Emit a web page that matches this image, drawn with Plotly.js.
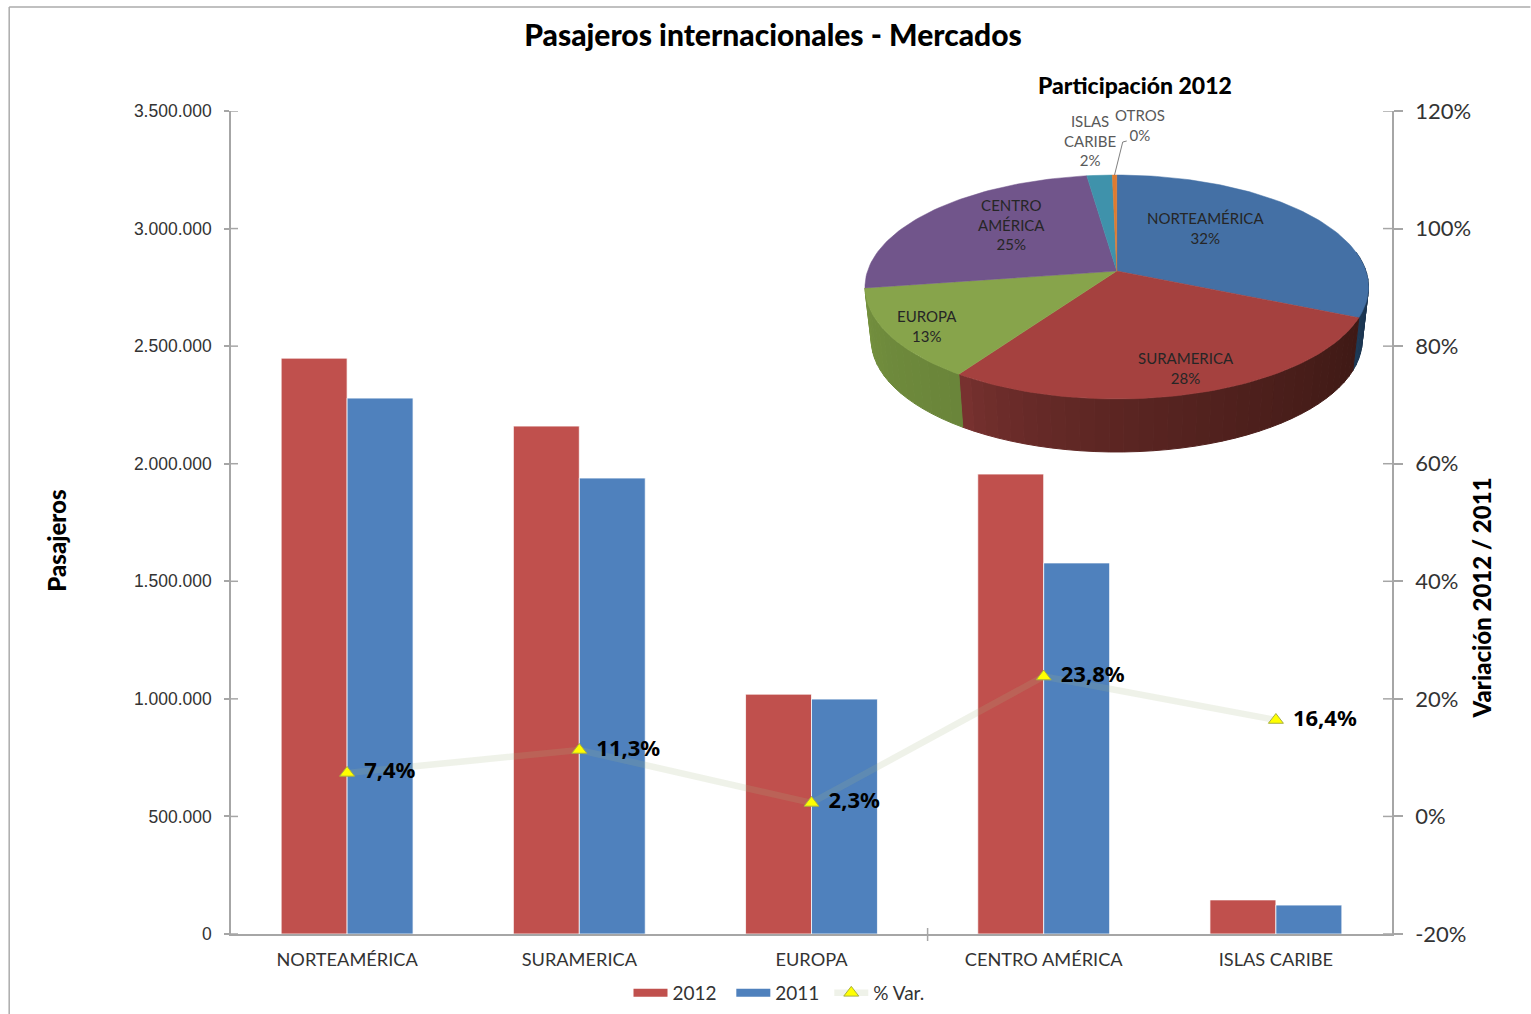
<!DOCTYPE html>
<html>
<head>
<meta charset="utf-8">
<script src="https://cdn.plot.ly/plotly-3.0.1.min.js"></script>
<style>html,body{margin:0;padding:0;background:#fff;overflow:hidden}#chart{width:1531px;height:1014px}</style>
</head>
<body>
<div id="chart"></div>
<script>
// ---- data ----
const categories = ['NORTEAMÉRICA', 'SURAMERICA', 'EUROPA', 'CENTRO AMÉRICA', 'ISLAS CARIBE'];
const pax2012 = [2449000, 2160000, 1020000, 1956000, 145000];
const pax2011 = [2279000, 1939000, 999000, 1578000, 123000];
const variation = [7.4, 11.3, 2.3, 23.8, 16.4];
const leftTicks = [0, 500000, 1000000, 1500000, 2000000, 2500000, 3000000, 3500000];
const rightTicks = [-20, 0, 20, 40, 60, 80, 100, 120];
const rightTickText = ['-20%', '0%', '20%', '40%', '60%', '80%', '100%', '120%'];

const pieNames = ['NORTEAMÉRICA', 'SURAMERICA', 'EUROPA', 'CENTRO AMÉRICA', 'ISLAS CARIBE', 'OTROS'];
const pieValues = [2449000, 2160000, 1020000, 1956000, 145000, 25000];
const pieLabels = ['NORTEAMÉRICA<br>32%', 'SURAMERICA<br>28%', 'EUROPA<br>13%', 'CENTRO<br>AMÉRICA<br>25%', 'ISLAS<br>CARIBE<br>2%', 'OTROS<br>0%'];

// ---- styles ----
const pieTopColors = ['#4470A5', '#A5413F', '#87A44B', '#71558B', '#3F92AB', '#E07B2F'];
const pieSideLeft = ['#1E3A57', '#7C3331', '#76933F', '#5A4470', '#30707F', '#A85A20'];
const pieSideRight = ['#1A3049', '#3E1915', '#6A853A', '#5A4470', '#30707F', '#A85A20'];
const labelAnchorX = [89, 69, -190, -105, -27, 23];
const labelAnchorY = [43, -97, -55, 47, 130.5, 146];
const FONT = 'Lato, "Open Sans", sans-serif';

// ---- frame ----
const L = 230.5, R = 1392.5, T = 111, BOT = 934, PW = R - L, PH = BOT - T;
const APEX_X = 1117, APEX_Y = 271;

// ---- perspective projection of the pie disc (plot units = screen pixels from the apex) ----
const A = 249.4, B = 109.7, C = 0.1429, DEPTH = 53, SQUEEZE = 0.975;
function rim(deg, lower) {
  const t = deg * Math.PI / 180, u = Math.sin(t), v = Math.cos(t), d = 1 + C * v;
  return lower ? [A * u / d * SQUEEZE, B * v / d - DEPTH] : [A * u / d, B * v / d];
}
const total = pieValues.reduce((s, v) => s + v, 0);
let cum = 0;
const sliceAngles = pieValues.map(v => { const a0 = cum / total * 360; cum += v; return [a0, cum / total * 360]; });

function hex(c) { return [1, 3, 5].map(i => parseInt(c.substr(i, 2), 16)); }
function mix(c0, c1, f) {
  const a = hex(c0), b = hex(c1);
  return 'rgb(' + a.map((x, i) => Math.round(x + (b[i] - x) * f)).join(',') + ')';
}

const sideTraces = [], topTraces = [];
const pieAxes = {xaxis: 'x3', yaxis: 'y4', mode: 'lines', showlegend: false, hoverinfo: 'skip', fill: 'toself'};
sliceAngles.forEach(([a0, a1], i) => {
  // visible wall: only the front of the disc
  const s0 = Math.max(a0, 80), s1 = Math.min(a1, 263);
  if (s1 > s0 && i < 3) {
    const n = Math.max(1, Math.ceil((s1 - s0) / 3));
    for (let k = 0; k < n; k++) {
      const g0 = s0 + (s1 - s0) * k / n, g1 = s0 + (s1 - s0) * (k + 1) / n;
      const pts = [rim(g0), rim(g1), rim(g1, true), rim(g0, true)];
      // shade runs from left (high angle) to right (low angle)
      const f = Math.pow(1 - (k + 0.5) / n, 0.6);
      const col = mix(pieSideLeft[i], pieSideRight[i], f);
      sideTraces.push(Object.assign({}, pieAxes, {
        x: pts.map(p => p[0]).concat(pts[0][0]), y: pts.map(p => p[1]).concat(pts[0][1]),
        fillcolor: col, line: {color: col, width: 1}
      }));
    }
  }
  const xs = [0], ys = [0];
  const m = Math.max(2, Math.ceil((a1 - a0) / 1.5));
  for (let k = 0; k <= m; k++) { const p = rim(a0 + (a1 - a0) * k / m); xs.push(p[0]); ys.push(p[1]); }
  xs.push(0); ys.push(0);
  topTraces.push(Object.assign({}, pieAxes, {
    name: pieNames[i], x: xs, y: ys, fillcolor: pieTopColors[i], line: {color: pieTopColors[i], width: 0.5}
  }));
});

// leader line from OTROS slice to its label
const otrosMid = rim((sliceAngles[5][0] + sliceAngles[5][1]) / 2);
const leader = {xaxis: 'x3', yaxis: 'y4', mode: 'lines', showlegend: false, hoverinfo: 'skip',
  x: [otrosMid[0], 6, 10], y: [otrosMid[1], 129, 130], line: {color: '#808080', width: 1}};

// ---- main traces ----
const barLine = {color: 'rgba(255,255,255,0.75)', width: 1};
const traces = [
  {type: 'bar', name: '2012', x: categories, y: pax2012, marker: {color: '#C0504D', line: barLine}, showlegend: false},
  {type: 'bar', name: '2011', x: categories, y: pax2011, marker: {color: '#4F81BD', line: barLine}, showlegend: false},
  {type: 'scatter', mode: 'lines', name: '2012\u00A0\u00A0', x: [categories[0]], y: [null], line: {color: '#C0504D', width: 8}},
  {type: 'scatter', mode: 'lines', name: '2011\u00A0', x: [categories[0]], y: [null], line: {color: '#4F81BD', width: 8}},
  {type: 'scatter', mode: 'lines+markers+text', name: '%\u00A0Var.', x: categories, y: variation, yaxis: 'y2',
    line: {color: 'rgba(165,185,135,0.18)', width: 6.5},
    marker: {symbol: 'triangle-up', size: 13, color: '#FFFF00', line: {color: '#A8B040', width: 1}},
    texttemplate: ' \u200A%{y:.1f}%', textposition: 'middle right',
    textfont: {family: '"Noto Sans", sans-serif', size: 22, color: '#000', weight: 700}}
].concat(sideTraces, topTraces, [leader]);

// ---- crossing ticks ----
const axisGray = '#A6A6A6';
const shapes = [];
leftTicks.forEach(v => shapes.push({type: 'line', xref: 'paper', x0: 0, x1: 7 / PW, yref: 'y', y0: v, y1: v, line: {color: axisGray, width: 1.5}}));
rightTicks.forEach(v => shapes.push({type: 'line', xref: 'paper', x0: 1 - 9 / PW, x1: 1, yref: 'y2', y0: v, y1: v, line: {color: axisGray, width: 1.5}}));
// single category tick of the original
shapes.push({type: 'line', xref: 'x', x0: 2.5, x1: 2.5, yref: 'paper', y0: -7 / PH, y1: 6 / PH, line: {color: axisGray, width: 1.5}});
// outer frame of the chart area
const px = x => (x - L) / PW, py = y => (BOT - y) / PH;
shapes.push({type: 'line', xref: 'paper', yref: 'paper', x0: px(8.5), x1: px(8.5), y0: py(7), y1: py(1014), line: {color: '#ABABAB', width: 1.5}});
shapes.push({type: 'line', xref: 'paper', yref: 'paper', x0: px(8.5), x1: px(1531), y0: py(7), y1: py(7), line: {color: '#ABABAB', width: 1.5}});

const annotations = pieLabels.map((t, i) => ({
  xref: 'x3', yref: 'y4', x: labelAnchorX[i], y: labelAnchorY[i], text: t, showarrow: false,
  xanchor: 'center', yanchor: 'middle', align: 'center', font: {family: FONT, size: 15, color: i >= 4 ? '#595959' : '#262626'}
}));
annotations.push({xref: 'paper', yref: 'paper', x: px(1135.5), y: py(85), text: 'Participación 2012', showarrow: false,
  xanchor: 'center', yanchor: 'middle', font: {family: FONT, size: 23, color: '#000', weight: 900}});
annotations.push({xref: 'paper', yref: 'paper', x: px(55), y: py(541), text: 'Pasajeros', showarrow: false, textangle: -90,
  xanchor: 'center', yanchor: 'middle', font: {family: FONT, size: 24, color: '#000', weight: 900}});
annotations.push({xref: 'paper', yref: 'paper', x: px(1482), y: py(598), text: 'Variación 2012 / 2011', showarrow: false, textangle: -90,
  xanchor: 'center', yanchor: 'middle', font: {family: FONT, size: 24, color: '#000', weight: 900}});

const layout = {
  width: 1531, height: 1014,
  margin: {l: L, r: 1531 - R, t: T, b: 1014 - BOT, pad: 0},
  paper_bgcolor: '#fff', plot_bgcolor: 'rgba(0,0,0,0)',
  separators: ',.',
  barmode: 'group', bargap: 0.432, bargroupgap: 0,
  title: {text: 'Pasajeros internacionales - Mercados', x: 773 / 1531, xanchor: 'center', y: 1 - 35 / 1014, yanchor: 'middle',
    font: {family: FONT, size: 30, color: '#000', weight: 900}},
  xaxis: {type: 'category', categoryorder: 'array', categoryarray: categories, range: [-0.5, 4.5], showgrid: false, zeroline: false,
    showline: true, linecolor: axisGray, linewidth: 1.5, ticks: '', ticklabelstandoff: 8,
    tickfont: {family: FONT, size: 18.2, color: '#333'}, fixedrange: true},
  yaxis: {range: [0, 3500000], tickvals: leftTicks, tickformat: ',d', showgrid: false, zeroline: false,
    showline: true, linecolor: axisGray, linewidth: 1.5, ticks: 'outside', ticklen: 5, tickwidth: 1.5, tickcolor: axisGray,
    ticklabelstandoff: 9, tickfont: {family: 'Liberation Sans, Arial, sans-serif', size: 17.5, color: '#333'}, fixedrange: true},
  yaxis2: {range: [-20, 120], tickmode: 'array', tickvals: rightTicks, ticktext: rightTickText, overlaying: 'y', side: 'right', showgrid: false, zeroline: false,
    showline: true, linecolor: axisGray, linewidth: 1.5, ticks: 'outside', ticklen: 9, tickwidth: 1.5, tickcolor: axisGray,
    ticklabelstandoff: 8, tickfont: {family: FONT, size: 22, color: '#333'}, fixedrange: true},
  xaxis3: {overlaying: 'x', anchor: 'y4', range: [L - APEX_X, R - APEX_X], visible: false, fixedrange: true},
  yaxis4: {overlaying: 'y', anchor: 'x3', range: [APEX_Y - BOT, APEX_Y - T], visible: false, fixedrange: true},
  legend: {orientation: 'h', x: 779 / 1531, xref: 'container', xanchor: 'center', y: 1 - 993 / 1014, yref: 'container', yanchor: 'middle',
    itemwidth: 34, traceorder: 'normal', font: {family: FONT, size: 19, color: '#333'}, bgcolor: 'rgba(0,0,0,0)'},
  shapes: shapes, annotations: annotations, hovermode: false
};
Plotly.newPlot('chart', traces, layout, {displayModeBar: false, responsive: false});
</script>
</body>
</html>
